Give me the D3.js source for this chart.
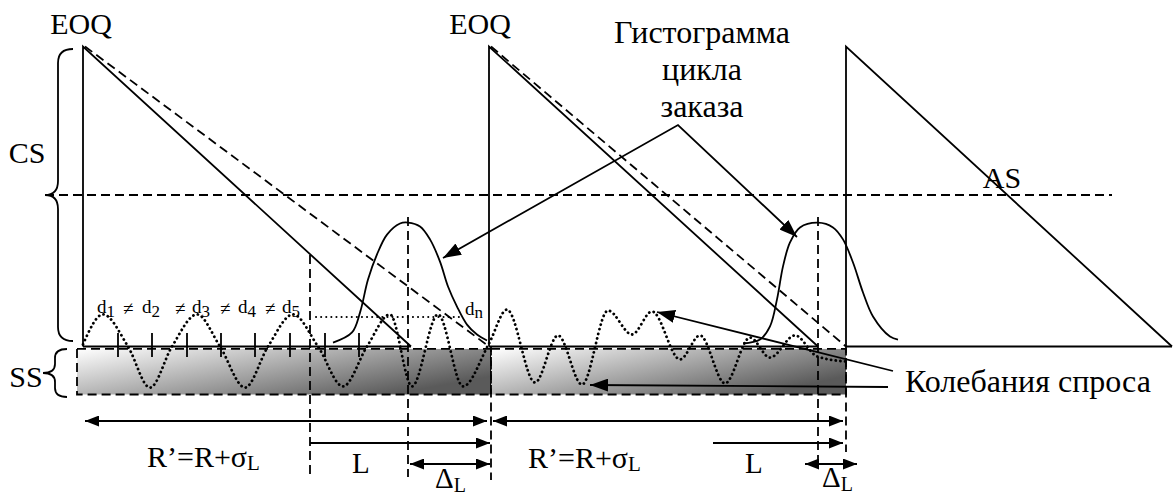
<!DOCTYPE html>
<html><head><meta charset="utf-8">
<script src="https://cdn.jsdelivr.net/npm/d3@7"></script>
<style>
body{margin:0;background:#fff}
svg{display:block}
</style>
</head><body><div id="chart"></div>
<script>
// ---- data (time along x, stock level along y) ----
const cycleStart   = [83, 489, 846];      // order arrival times
const actualZero   = [411, 818, 1172];    // stock reaches zero (solid line)
const plannedZero  = [489, 846];          // planned run-out (dashed line)
const eoqLevel     = 100;
const asLevel      = 50.5;
const ssTop        = -0.8;
const ssBottom     = -16;
const orderPoints  = [310, 713];          // re-order moments
const leadPeaks    = [408, 818];          // mean lead-time peaks
const tickTimes    = [118, 152, 187, 221, 255, 290, 325, 359];
const demandWave   = [[83,0.7],[103,10.7],[128,0],[150,-13.7],[172,0],[197,10.7],[220,0],[245,-13.7],[268,0],[293,10.7],[318,0],[343,-13.3],[367,0],[390,10.7],[412,-13.3],[438,10.7],[463,-13.3],[489,1],[507,12.3],[535,-12],[558,3.7],[582,-12.7],[608,12],[632,4],[652,11.7],[680,-4.3],[700,3.7],[725,-12.3],[750,3],[770,-3.7],[795,3.7],[817,-3.3],[846,-5]];
const leadHist1    = [[333,1.3],[352,4.7],[360,11.3],[368,22.3],[377,30.7],[387,37.3],[400,41],[408,41.3],[420,40],[430,35.7],[440,28.3],[448,20],[457,13.3],[467,7.3],[477,4],[487,2]];
const leadHist2    = [[743,1],[760,2.3],[770,6.7],[777,15.7],[783,26.7],[790,34.7],[800,39.7],[818,41.3],[833,39.7],[843,35.7],[853,28],[863,18],[873,10],[890,3.3],[898,2.3]];
const demandSymbols = ["1","2","3","4","5"];
const labelEOQ     = "EOQ";
const histLines    = ["Гистограмма","цикла","заказа"];
const demandLabel  = "Колебания спроса";

const FONT = "'Liberation Serif','Times New Roman','DejaVu Serif',serif";

// ---- scales ----
const W = 1175, H = 498;
const x = d3.scaleLinear().domain([0, W]).range([0, W]);
const y = d3.scaleLinear().domain([0, eoqLevel]).range([346.5, 46.5]);

const svg = d3.select("#chart").append("svg").attr("width", W).attr("height", H);
const defs = svg.append("defs");
const g = defs.append("linearGradient").attr("id","ssGrad")
  .attr("x1",0).attr("y1",0).attr("x2",1).attr("y2",0.6);
g.append("stop").attr("offset","0").attr("stop-color","#ffffff");
g.append("stop").attr("offset","1").attr("stop-color","#5a5a5a");

function marker(id, len, wid){
  defs.append("marker").attr("id",id).attr("markerUnits","userSpaceOnUse")
    .attr("viewBox",`0 0 ${len} ${wid}`).attr("refX",len).attr("refY",wid/2)
    .attr("markerWidth",len).attr("markerHeight",wid).attr("orient","auto-start-reverse")
    .append("path").attr("d",`M0,0L${len},${wid/2}L0,${wid}Z`).attr("fill","#000");
}
marker("arr", 14, 11);
marker("big", 18, 13);

const line = d3.line().x(d=>x(d[0])).y(d=>y(d[1]));
const SW = 1.8, DASH = "9,5";

// SS band
const bands = [[77, plannedZero[0]+2],[plannedZero[0]+2, plannedZero[1]]];
svg.selectAll(".ss").data(bands).enter().append("rect")
  .attr("x",d=>x(d[0])).attr("width",d=>x(d[1])-x(d[0]))
  .attr("y",y(ssTop)).attr("height",y(ssBottom)-y(ssTop))
  .attr("fill","url(#ssGrad)").attr("stroke","#000").attr("stroke-width",SW).attr("stroke-dasharray",DASH);

// AS dashed horizontal
svg.append("path").attr("d",line([[45,asLevel],[1112,asLevel]]))
  .attr("stroke","#000").attr("stroke-width",SW).attr("stroke-dasharray",DASH).attr("fill","none");

// cycles: vertical + diagonal + baseline
cycleStart.forEach((s,i)=>{
  svg.append("path").attr("d",line([[s,0],[s,eoqLevel],[actualZero[i],0]]))
    .attr("stroke","#000").attr("stroke-width",SW).attr("fill","none");
  svg.append("path").attr("d",line([[s,0],[actualZero[i],0]]))
    .attr("stroke","#000").attr("stroke-width",SW).attr("fill","none");
  if(i < plannedZero.length){
    svg.append("path").attr("d",line([[s+2,eoqLevel],[plannedZero[i],0]]))
      .attr("stroke","#000").attr("stroke-width",SW).attr("stroke-dasharray",DASH).attr("fill","none");
  }
});

// ticks
svg.selectAll(".tick").data(tickTimes).enter().append("line")
  .attr("x1",d=>x(d)).attr("x2",d=>x(d)).attr("y1",y(4.5)).attr("y2",y(-3.5))
  .attr("stroke","#000").attr("stroke-width",SW);

// vertical dashed guides
const guides = [[orderPoints[0],30.5,477],[leadPeaks[0],43.2,477],[plannedZero[0]+2,0,480],[leadPeaks[1],43.2,460],[plannedZero[1],0,452]];
guides.forEach(gd=>{
  svg.append("line").attr("x1",x(gd[0])).attr("x2",x(gd[0])).attr("y1",y(gd[1])).attr("y2",gd[2])
    .attr("stroke","#000").attr("stroke-width",SW).attr("stroke-dasharray",DASH);
});

// dotted reference line
svg.append("path").attr("d",line([[316,9.8],[463,9.8]]))
  .attr("stroke","#000").attr("stroke-width",2).attr("stroke-dasharray","0.1,5").attr("stroke-linecap","round").attr("fill","none");

// demand wave
svg.append("path").attr("d",d3.line().x(d=>x(d[0])).y(d=>y(d[1])).curve(d3.curveMonotoneX)(demandWave))
  .attr("stroke","#000").attr("stroke-width",2.8).attr("stroke-dasharray","0.1,4.6").attr("stroke-linecap","round").attr("fill","none");

// lead-time histograms
[leadHist1, leadHist2].forEach(h=>{
  svg.append("path").attr("d",d3.line().x(d=>x(d[0])).y(d=>y(d[1])).curve(d3.curveCatmullRom)(h))
    .attr("stroke","#000").attr("stroke-width",SW).attr("fill","none");
});

// callouts
const callouts = [
  [[678,125],[443,258]], [[678,125],[797,237]],
  [[893,371],[657,312]], [[888,387],[590,385]]
];
svg.append("path").attr("d",`M${callouts[0][1][0]},${callouts[0][1][1]}L678,125L${callouts[1][1][0]},${callouts[1][1][1]}`)
  .attr("stroke","#000").attr("stroke-width",SW).attr("fill","none")
  .attr("marker-start","url(#big)").attr("marker-end","url(#big)");
callouts.slice(2).forEach(c=>{
  svg.append("line").attr("x1",c[0][0]).attr("y1",c[0][1]).attr("x2",c[1][0]).attr("y2",c[1][1])
    .attr("stroke","#000").attr("stroke-width",SW).attr("marker-end","url(#big)");
});

// span arrows
const rowY = [421, 443, 464];
const spans = [
  {a:85,b:487,row:0,both:true},{a:493,b:843,row:0,both:true},
  {a:orderPoints[0],b:490,row:1,both:false},{a:orderPoints[1],b:843,row:1,both:false},
  {a:410,b:490,row:2,both:true},{a:805,b:857,row:2,both:true}
];
spans.forEach(s=>{
  const l = svg.append("line").attr("x1",x(s.a)).attr("x2",x(s.b)).attr("y1",rowY[s.row]).attr("y2",rowY[s.row])
    .attr("stroke","#000").attr("stroke-width",SW).attr("marker-end","url(#arr)");
  if(s.both) l.attr("marker-start","url(#arr)");
});

// braces
const brace = (xr, xm, xt, y0, ym, y1, r) =>
  `M${xr},${y0}Q${xm},${y0} ${xm},${y0+r}L${xm},${ym-r}Q${xm},${ym} ${xt},${ym}Q${xm},${ym} ${xm},${ym+r}L${xm},${y1-r}Q${xm},${y1} ${xr},${y1}`;
svg.append("path").attr("d",brace(73,58,45,49,y(asLevel),341,14)).attr("stroke","#000").attr("stroke-width",SW).attr("fill","none");
svg.append("path").attr("d",brace(67,55,43,349,373,397,9)).attr("stroke","#000").attr("stroke-width",SW).attr("fill","none");

// texts
const T = (t,xx,yy,size,anchor)=>svg.append("text").attr("x",xx).attr("y",yy)
  .attr("font-family",FONT).attr("font-size",size).attr("fill","#000")
  .attr("text-anchor",anchor||"start").text(t);
T(labelEOQ,81,34,30,"middle");
T(labelEOQ,480,34,30,"middle");
T("CS",27,163,30,"middle");
T("SS",26,387,30,"middle");
T("AS",1002,188,30,"middle");
histLines.forEach((t,i)=>T(t,702,43+i*37,32,"middle"));
T(demandLabel,905,392,32);

function sub(main, s, xx, yy, size, subSize, dy){
  const t = svg.append("text").attr("x",xx).attr("y",yy)
    .attr("font-family",FONT).attr("font-size",size).attr("fill","#000");
  t.append("tspan").text(main);
  t.append("tspan").attr("font-size",subSize).attr("dy",dy).text(s);
}
sub("R’=R+σ","L",147,467,30,21,3);
sub("R’=R+σ","L",528,468,30,21,3);
T("L",352,473,29);
T("L",745,473,29);
sub("Δ","L",435,488,29,20,4);
sub("Δ","L",822,487,29,20,4);

// d1 ≠ d2 ...
const dX = [97,142,192,238,282];
const neqX = [123,175,220,265];
demandSymbols.forEach((s,i)=>sub("d",s,dX[i],313,19,17,4));
neqX.forEach(v=>T("≠",v,315,19));
sub("d","n",465,315,19,17,3);
</script>
</body></html>
